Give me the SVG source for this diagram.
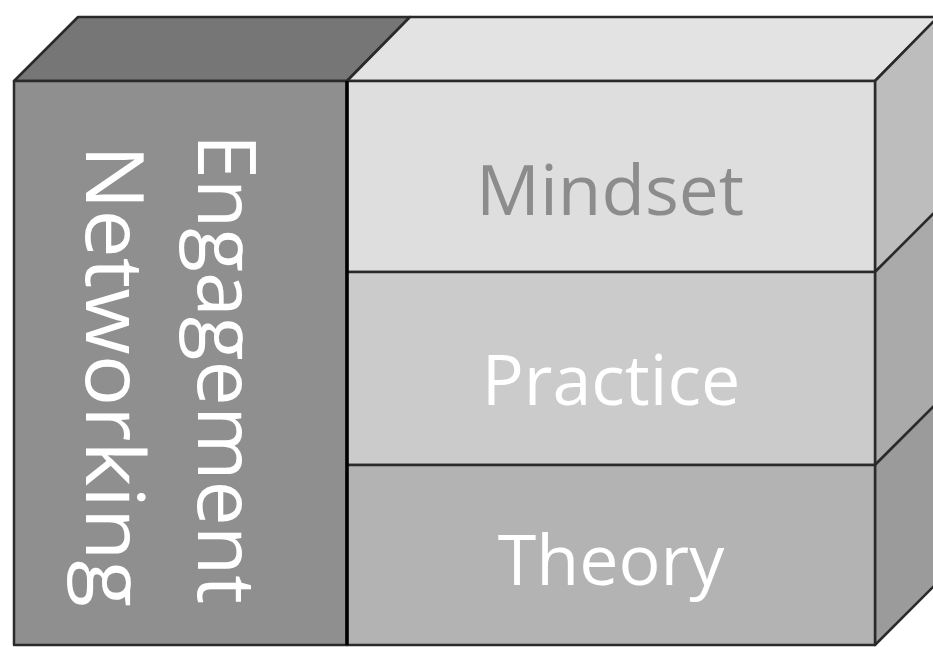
<svg xmlns="http://www.w3.org/2000/svg" width="933" height="647" viewBox="0 0 933 647">
<style>
.edge{stroke:#2a2a2a;stroke-width:2.5;stroke-linejoin:round}
.lbl{font-family:"Open Sans","Noto Sans","Liberation Sans",sans-serif;font-size:70px;text-anchor:middle}
.vlbl{font-family:"Open Sans","Noto Sans","Liberation Sans",sans-serif;font-size:80px;fill:#ffffff}
</style>
<rect width="933" height="647" fill="#ffffff"/>
<g id="left-block">
<polygon class="edge" points="14,81 78,17 410,17 347,81" fill="#767676"/>
<rect class="edge" x="14" y="81" width="333" height="564" fill="#8f8f8f"/>
<text class="vlbl" transform="translate(198,134) rotate(90)" textLength="470" lengthAdjust="spacingAndGlyphs">Engagement</text>
<text class="vlbl" transform="translate(86,145) rotate(90)" textLength="462" lengthAdjust="spacingAndGlyphs">Networking</text>
</g>
<g id="mindset">
<polygon class="edge" points="347,81 410,17 938,17 875,81" fill="#e3e3e3"/>
<polygon class="edge" points="875,81 938,17 938,209 875,272" fill="#bdbdbd"/>
<rect class="edge" x="347" y="81" width="528" height="191" fill="#dedede"/>
<text class="lbl" x="610" y="215" fill="#8c8c8c" textLength="268" lengthAdjust="spacingAndGlyphs">Mindset</text>
</g>
<g id="practice">
<polygon class="edge" points="875,272 938,209 938,402 875,465" fill="#aaaaaa"/>
<rect class="edge" x="347" y="272" width="528" height="193" fill="#cbcbcb"/>
<text class="lbl" x="611" y="405" fill="#ffffff">Practice</text>
</g>
<g id="theory">
<polygon class="edge" points="875,465 938,402 938,582 875,645" fill="#9b9b9b"/>
<rect class="edge" x="347" y="465" width="528" height="180" fill="#b3b3b3"/>
<text class="lbl" x="611" y="585" fill="#ffffff">Theory</text>
</g>
<line x1="347" y1="81" x2="347" y2="645" stroke="#000000" stroke-width="3.5"/>
</svg>
